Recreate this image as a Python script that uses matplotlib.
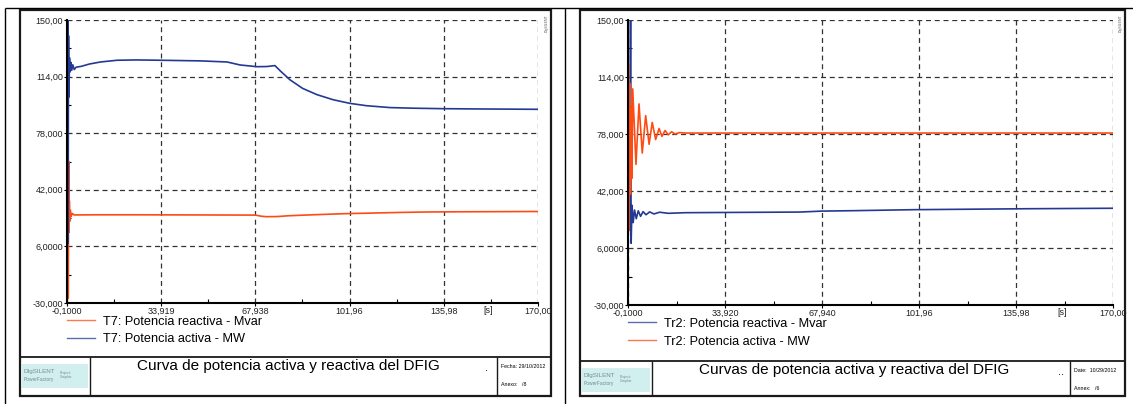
import matplotlib as mplib
mplib.use('Agg')
import matplotlib.pyplot as plt
from matplotlib.ticker import FixedLocator, FixedFormatter
from matplotlib.patches import Rectangle

plt.rcParams['font.family'] = ['Liberation Sans', 'DejaVu Sans']

W, H = 1133, 404

# ---- data ----
# left panel (T7)
t7_mvar_t = [-0.1, 0.1, 0.2, 0.35, 0.5, 0.6, 0.75, 0.9, 1.1, 1.4, 1.8, 2.5, 10, 25, 50, 68,
             70, 72, 76, 80, 90, 100, 110, 120, 130, 140, 155, 170]
t7_mvar = [26, 26, 150, -27, 60, 15, 35, 22, 29, 25, 27, 26, 26.1, 26.1, 26, 25.9,
           25.2, 24.9, 25.0, 25.5, 26.2, 26.8, 27.2, 27.6, 27.9, 28.0, 28.1, 28.2]
t7_mw_t = [-0.1, 0.1, 0.2, 0.3, 0.45, 0.6, 0.8, 1.0, 1.3, 1.6, 2.0, 2.5, 3.2, 5, 8, 12, 18, 25,
           33.5, 48, 57.7, 62.4, 68.5, 72, 75, 77, 80.4, 85, 90.2, 96, 102, 108, 116.5, 125,
           135.7, 150, 170]
t7_mw = [124.5, 124.5, 150, 8, 140, 101, 126, 117, 123, 118, 121.5, 118.5, 120, 120.5, 122,
         123.3, 124.4, 124.6, 124.4, 124, 123.3, 121.4, 120.3, 120.4, 121.0, 117.5, 112.0,
         106.5, 102.5, 99.3, 97.0, 95.5, 94.3, 93.9, 93.6, 93.4, 93.2]

# right panel (Tr2)
tr2_mvar_t = [-0.1, 0.5, 0.8, 1.0, 1.3, 1.7, 2.2, 2.8, 3.5, 4.3, 5.2, 6.2, 7.5, 9, 11, 14,
              20, 40, 60, 67.9, 80, 100, 120, 140, 170]
tr2_mvar = [23.5, 23.5, 150, 9, 33, 22, 30, 24.5, 29.5, 26, 29, 27, 28.8, 27.5, 28.6, 27.9,
            28.3, 28.5, 28.7, 29.3, 29.6, 30.2, 30.5, 30.8, 31.1]
tr2_mw_t = [-0.1, 0.1, 0.25, 0.5, 0.75, 1.0, 1.25, 1.55, 2.7, 3.76, 4.9, 6.1, 7.3, 8.4, 9.6,
            10.8, 11.8, 12.9, 14.0, 15.2, 16.4, 18, 20, 40, 80, 120, 170]
tr2_mw = [122, 122, 17, 110, 40, 95, 50, 106.5, 58.8, 97, 66, 89.6, 71.5, 85.3, 74.5,
          81.5, 76.5, 80.2, 77.5, 79.4, 78.0, 78.9, 78.6, 78.6, 78.6, 78.6, 78.6]

yticks = [-30, 6, 42, 78, 114, 150]
ylabels = ['-30,000', '6,0000', '42,000', '78,000', '114,00', '150,00']
xticks_l = [-0.1, 33.919, 67.938, 101.96, 135.98, 170.0]
xlabels_l = ['-0,1000', '33,919', '67,938', '101,96', '135,98', '170,00']
xticks_r = [-0.1, 33.92, 67.94, 101.96, 135.98, 170.0]
xlabels_r = ['-0,1000', '33,920', '67,940', '101,96', '135,98', '170,00']

BLUE = '#243a92'
ORANGE = '#ff4a12'


def px_rect(x0, y0, x1, y1):
    return [x0 / W, 1 - y1 / H, (x1 - x0) / W, (y1 - y0) / H]


fig = plt.figure(figsize=(W / 100, H / 100), dpi=100)

# overlay in pixel coordinates for the frames / title block
bg = fig.add_axes([0, 0, 1, 1])
bg.set_xlim(0, W)
bg.set_ylim(H, 0)
bg.axis('off')


def hline(y, x0, x1, lw=1.0, c='black'):
    bg.plot([x0, x1], [y, y], color=c, lw=lw, solid_capstyle='butt')


def vline(x, y0, y1, lw=1.0, c='black'):
    bg.plot([x, x], [y0, y1], color=c, lw=lw, solid_capstyle='butt')


# outer table
hline(8, 5, W)
vline(5, 8, H)
vline(565, 8, H)


def panel(fx0, fx1, hy, logo_x, date_x, title, dots, date_txt, annex_txt,
          ax_box, xt, xl, series):
    # frame
    bg.add_patch(Rectangle((fx0, 10), fx1 - fx0, 386, fill=False, ec='#1a1a1a', lw=1.6))
    hline(hy, fx0, fx1, lw=1.3, c='#1a1a1a')
    vline(logo_x, hy, 396, lw=1.0, c='#1a1a1a')
    vline(date_x, hy, 396, lw=1.0, c='#1a1a1a')
    # logo
    bg.add_patch(Rectangle((fx0 + 2, hy + 7), logo_x - fx0 - 4, 24, fc='#d2eff0', ec='none'))
    bg.text(fx0 + 4, hy + 14, 'DIgSILENT', fontsize=4.5, color='#7a8a90', va='center')
    bg.text(fx0 + 4, hy + 23, 'PowerFactory', fontsize=3.5, color='#7a8a90', va='center')
    bg.text(fx0 + 40, hy + 18, 'Project:\nGraphic:', fontsize=2.5, color='#7a8a90', va='center')
    # title + date
    bg.text(logo_x + 47, hy + 9, title, fontsize=11, va='center')
    bg.text(date_x - 12, hy + 11, dots, fontsize=8, va='center')
    bg.text(date_x + 4, hy + 10, date_txt, fontsize=3.8, va='center')
    bg.text(date_x + 4, hy + 28, annex_txt, fontsize=3.8, va='center')
    # small rotated mark
    bg.text(fx1 - 4, 14, 'DIgSILENT', fontsize=2.5, rotation=90, va='top', ha='center',
            color='#555555')

    ax = fig.add_axes(px_rect(*ax_box))
    lines = []
    for (t, v, c, lab) in series:
        ln, = ax.plot(t, v, color=c, lw=1.2, label=lab)
        lines.append(ln)
    ax.set_xlim(-0.1, 170)
    ax.set_ylim(-30, 150)
    ax.xaxis.set_major_locator(FixedLocator(xt))
    ax.xaxis.set_major_formatter(FixedFormatter(xl))
    ax.yaxis.set_major_locator(FixedLocator(yticks))
    ax.yaxis.set_major_formatter(FixedFormatter(ylabels))
    ax.xaxis.set_minor_locator(FixedLocator([(a + b) / 2 for a, b in zip(xt[:-1], xt[1:])]))
    ax.yaxis.set_minor_locator(FixedLocator([(a + b) / 2 for a, b in zip(yticks[:-1], yticks[1:])]))
    ax.tick_params(which='major', direction='out', length=2, width=0.8, labelsize=6.5,
                   pad=1, colors='black', labelcolor='#222222')
    ax.tick_params(which='minor', direction='in', length=3, width=0.8)
    ax.grid(True, which='major', color='#333333', lw=0.9, linestyle=(0, (4, 3)))
    for s in ['top', 'right']:
        ax.spines[s].set_visible(False)
    for s in ['left', 'bottom']:
        ax.spines[s].set_linewidth(1.5)
        ax.spines[s].set_color('black')
    ax.patch.set_alpha(0)
    ax.text(0.895, -0.012, '[s]', transform=ax.transAxes, fontsize=6.5, ha='center', va='top',
            color='#222222')
    leg = ax.legend(handles=lines, loc='upper left', bbox_to_anchor=(0.0, -0.045),
                    frameon=False, fontsize=9.2, handlelength=2.2, handletextpad=0.6,
                    labelspacing=0.45, borderaxespad=0, borderpad=0)
    for lh in leg.get_lines():
        lh.set_linewidth(1.0)
        lh.set_alpha(0.75)
    return ax


panel(20, 551, 357, 90, 497, 'Curva de potencia activa y reactiva del DFIG', '.',
      'Fecha: 29/10/2012', 'Anexo:   /8', (67, 20, 538, 303), xticks_l, xlabels_l,
      [(t7_mvar_t, t7_mvar, ORANGE, 'T7: Potencia reactiva - Mvar'),
       (t7_mw_t, t7_mw, BLUE, 'T7: Potencia activa - MW')])

panel(580, 1125, 361, 652, 1070, 'Curvas de potencia activa y reactiva del DFIG', '..',
      'Date:  10/29/2012', 'Annex:   /6', (628, 20, 1113, 305), xticks_r, xlabels_r,
      [(tr2_mvar_t, tr2_mvar, BLUE, 'Tr2: Potencia reactiva - Mvar'),
       (tr2_mw_t, tr2_mw, ORANGE, 'Tr2: Potencia activa - MW')])

fig.savefig('out.png', dpi=100)
plt.close('all')
